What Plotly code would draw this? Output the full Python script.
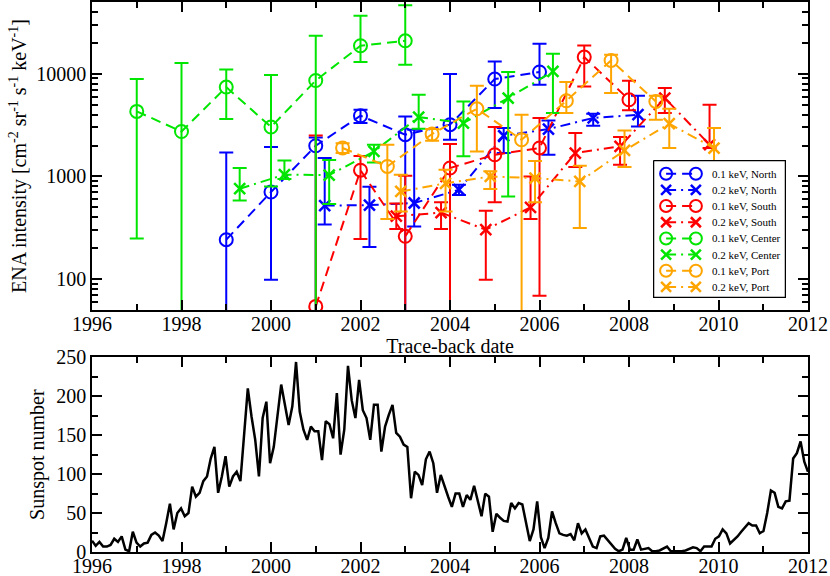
import numpy as np
import plotly.graph_objects as go

# ---------------- ENA intensity data (top panel) ----------------
north01_x = [1999, 2000, 2001, 2002, 2003, 2004, 2005, 2006]
north01_v = [242, 705, 1990, 3900, 2550, 3190, 8880, 10400]
north01_hi = [1713, 1930, 2400, 4460, 3830, 9930, 13180, 19600]
north01_lo = [10, 98.6, 10, 3310, 10, 2275, 4640, 7820]

north02_x = [2001.2, 2002.2, 2003.2, 2004.2, 2005.2, 2006.2, 2007.2, 2008.2]
north02_v = [520, 526, 551, 742, 2490, 2890, 3710, 3990]
north02_hi = [1510, 795, 2850, 830, 2960, 3510, 4080, 6110]
north02_lo = [340, 205, 326, 660, 1690, 1630, 3120, 3070]

south01_x = [2001, 2002, 2003, 2004, 2005, 2006, 2007, 2008]
south01_v = [54.2, 1150, 261, 1208, 1626, 1893, 14540, 5580]
south01_hi = [2506, 1580, 1016, 2066, 3030, 3710, 18900, 8550]
south01_lo = [10, 246, 10, 10, 559, 68.9, 7530, 4400]

south02_x = [2002.8, 2003.8, 2004.8, 2005.8, 2006.8, 2007.8, 2008.8, 2009.8]
south02_v = [410, 444, 303, 499, 1690, 1960, 5800, 2040]
south02_hi = [545, 559, 464, 1000, 2650, 2420, 7260, 4990]
south02_lo = [308, 308, 98.6, 384, 1233, 1300, 4140, 1890]

center01_x = [1997, 1998, 1999, 2000, 2001, 2002, 2003]
center01_v = [4300, 2740, 7420, 3030, 8600, 18740, 20950]
center01_hi = [8880, 12700, 11000, 9700, 23400, 36700, 46600]
center01_lo = [249, 10, 3620, 800, 10, 13000, 12240]

center02_x = [1999.3, 2000.3, 2001.3, 2002.3, 2003.3, 2004.3, 2005.3, 2006.3]
center02_v = [759, 1040, 1030, 1750, 3780, 3310, 5800, 10540]
center02_hi = [1208, 1430, 1445, 2040, 6250, 5370, 10400, 15660]
center02_lo = [584, 943, 540, 1370, 2910, 1570, 638, 4140]

port01_x = [2001.6, 2002.6, 2003.6, 2004.6, 2005.6, 2006.6, 2007.6, 2008.6]
port01_v = [1893, 1250, 2590, 4560, 2275, 5460, 13480, 5370]
port01_hi = [2110, 2040, 2890, 7640, 3990, 8300, 15300, 6110]
port01_lo = [1690, 384, 2230, 1750, 10, 4140, 6490, 3570]

port02_x = [2002.9, 2003.9, 2004.9, 2005.9, 2006.9, 2007.9, 2008.9, 2009.9]
port02_v = [714, 856, 1000, 964, 893, 1792, 3260, 1890]
port02_hi = [1040, 1160, 1120, 1410, 1270, 2800, 4560, 2960]
port02_lo = [456, 456, 754, 559, 315, 1233, 1893, 1110]

# ---------------- Sunspot number (bottom panel), ~monthly 1996-2012 ----------------
sunspot = [
    14.5, 8, 13, 7, 7, 9, 17, 13, 20, 3, 1, 26, 12, 7, 11, 12, 22, 25, 21, 14,
    37, 62, 29, 50, 56, 46, 50, 84, 71, 76, 91, 97, 120, 135, 76, 97, 123, 84, 97, 103,
    91, 148, 210, 174, 144, 97, 172, 193, 114, 135, 174, 215, 189, 163, 187, 244, 180, 157, 144, 161,
    155, 155, 118, 168, 164, 146, 204, 125, 157, 239, 195, 172, 221, 182, 172, 144, 189, 189, 129, 161,
    176, 189, 153, 148, 138, 135, 69, 103, 99,
    86, 119, 129, 114, 76, 99, 84, 71, 58, 75,
    75, 58, 73, 67, 85, 67, 46, 75, 71, 26,
    49, 44, 40, 39, 63, 56, 63, 61, 37, 14,
    29, 65, 19, 5, 18, 52, 37, 24, 22, 21,
    23, 15, 37, 24, 29, 18, 7, 5, 20, 21,
    15, 9, 4, 1, 3, 18, 3, 3, 16, 3,
    4, 5, 1, 1, 2, 4, 7, 1, 1, 1,
    1, 2, 4, 6, 5, 1, 7, 7, 7, 17,
    20, 29, 24, 11, 15, 20, 26, 31, 37, 34,
    34, 24, 27, 50, 79, 76, 58, 56, 65, 66,
    120, 127, 142, 116, 103,
]
sun_start, sun_end = 1996.0, 2012.0
sun_dates = np.linspace(sun_start, sun_end, len(sunspot))

year_ticks = list(range(1996, 2013, 2))
log_major = [100, 1000, 10000]
log_major_text = ["100", "1000", "10000"]
log_minor = [60, 70, 80, 90, 200, 300, 400, 500, 600, 700, 800, 900,
             2000, 3000, 4000, 5000, 6000, 7000, 8000, 9000,
             20000, 30000, 40000]

BLUE, RED, GREEN, ORANGE = "#0000ff", "#ff0000", "#00e600", "#ffa500"
FONT = "Liberation Serif, Times New Roman, serif"

series = [
    ("0.1 keV, North", north01_x, north01_v, north01_hi, north01_lo, BLUE, "circle"),
    ("0.2 keV, North", north02_x, north02_v, north02_hi, north02_lo, BLUE, "x"),
    ("0.1 keV, South", south01_x, south01_v, south01_hi, south01_lo, RED, "circle"),
    ("0.2 keV, South", south02_x, south02_v, south02_hi, south02_lo, RED, "x"),
    ("0.1 keV, Center", center01_x, center01_v, center01_hi, center01_lo, GREEN, "circle"),
    ("0.2 keV, Center", center02_x, center02_v, center02_hi, center02_lo, GREEN, "x"),
    ("0.1 keV, Port", port01_x, port01_v, port01_hi, port01_lo, ORANGE, "circle"),
    ("0.2 keV, Port", port02_x, port02_v, port02_hi, port02_lo, ORANGE, "x"),
]


def style(kind, col, size_c=13, size_x=11):
    if kind == "circle":
        marker = dict(symbol="circle-open", size=size_c, color=col, line=dict(width=2, color=col))
        dash = "10px,6px"
    else:
        marker = dict(symbol="x-thin-open", size=size_x, color=col, line=dict(width=2.5, color=col))
        dash = "10px,5px,2px,5px"
    return marker, dash


fig = go.Figure()
for name, xs, vs, hi, lo, col, kind in series:
    up = [h - v for h, v in zip(hi, vs)]
    dn = [v - l for v, l in zip(vs, lo)]
    marker, dash = style(kind, col)
    fig.add_trace(go.Scatter(
        x=xs, y=vs, name=name, mode="lines+markers", showlegend=False,
        line=dict(color=col, width=2, dash=dash),
        marker=marker,
        error_y=dict(type="data", symmetric=False, array=up, arrayminus=dn,
                     color=col, thickness=2, width=7),
        xaxis="x", yaxis="y",
    ))

fig.add_trace(go.Scatter(
    x=sun_dates, y=sunspot, mode="lines", showlegend=False,
    line=dict(color="black", width=2.5), xaxis="x2", yaxis="y2",
))

# ---------------- hand-drawn legend box (x3/y3 overlay, pixel-like units) ----------------
LEG_W, LEG_H = 133, 138
fig.add_trace(go.Scatter(
    x=[0, LEG_W, LEG_W, 0, 0], y=[0, 0, LEG_H, LEG_H, 0], mode="lines",
    fill="toself", fillcolor="white", line=dict(color="black", width=1.5),
    showlegend=False, hoverinfo="skip", xaxis="x3", yaxis="y3",
))
row0, row_step = 13.3, 16.3
annotations = []
for i, (name, xs, vs, hi, lo, col, kind) in enumerate(series):
    yy = row0 + row_step * i
    marker, dash = style(kind, col, size_c=12, size_x=10)
    fig.add_trace(go.Scatter(
        x=[12.7, 42.7], y=[yy, yy], mode="lines+markers", showlegend=False,
        hoverinfo="skip", line=dict(color=col, width=2, dash=dash), marker=marker,
        xaxis="x3", yaxis="y3",
    ))
    annotations.append(dict(
        x=57, y=yy, xref="x3", yref="y3", text=name, showarrow=False,
        xanchor="left", yanchor="middle",
        font=dict(family=FONT, size=11, color="black"),
    ))

axis_common = dict(
    showline=True, linecolor="black", linewidth=1.5, mirror="allticks",
    ticks="inside", ticklen=10, tickwidth=1.5, tickcolor="black",
    showgrid=False, zeroline=False,
    tickfont=dict(family=FONT, size=20, color="black"),
)

fig.update_layout(
    width=830, height=576,
    margin=dict(l=92, r=22, t=2, b=24),
    paper_bgcolor="white", plot_bgcolor="white",
    template="none",
    font=dict(family=FONT, size=20, color="black"),
    showlegend=False,
    annotations=annotations,
    xaxis=dict(
        axis_common, domain=[0, 1], anchor="y", range=[1996, 2012],
        tickmode="array", tickvals=year_ticks, ticklabelstandoff=-5,
        minor=dict(ticks="inside", ticklen=6, tickwidth=1.5, tickcolor="black", dtick=1, tick0=1996),
        title=dict(text="Trace-back date", font=dict(family=FONT, size=20), standoff=3),
    ),
    yaxis=dict(
        axis_common, domain=[0.44, 1], anchor="x", type="log",
        range=[np.log10(50), np.log10(50000)],
        tickmode="array", tickvals=log_major, ticktext=log_major_text,
        minor=dict(ticks="inside", ticklen=6, tickwidth=1.5, tickcolor="black",
                   tickmode="array", tickvals=log_minor),
        title=dict(text="ENA intensity [cm<sup>-2</sup> sr<sup>-1</sup> s<sup>-1</sup> keV<sup>-1</sup>]",
                   font=dict(family=FONT, size=20), standoff=4),
    ),
    xaxis2=dict(
        axis_common, domain=[0, 1], anchor="y2", range=[1996, 2012],
        tickmode="array", tickvals=year_ticks, ticklabelstandoff=-5,
        minor=dict(ticks="inside", ticklen=6, tickwidth=1.5, tickcolor="black", dtick=1, tick0=1996),
    ),
    yaxis2=dict(
        axis_common, domain=[0, 0.354], anchor="x2", range=[0, 250],
        tickmode="linear", tick0=0, dtick=50,
        minor=dict(ticks="inside", ticklen=6, tickwidth=1.5, tickcolor="black", dtick=25, tick0=0),
        title=dict(text="Sunspot number", font=dict(family=FONT, size=20), standoff=6),
    ),
    xaxis3=dict(domain=[(653 - 92) / 716, (653 + LEG_W - 92) / 716], anchor="y3",
                range=[-0.5, LEG_W + 0.5], visible=False, fixedrange=True),
    yaxis3=dict(domain=[(552 - 160 - LEG_H) / 550, (552 - 160) / 550], anchor="x3",
                range=[LEG_H + 0.5, -0.5], visible=False, fixedrange=True),
)

fig.write_html("out.html", config={"displayModeBar": False},
               post_script="document.body.style.margin='0px';")
